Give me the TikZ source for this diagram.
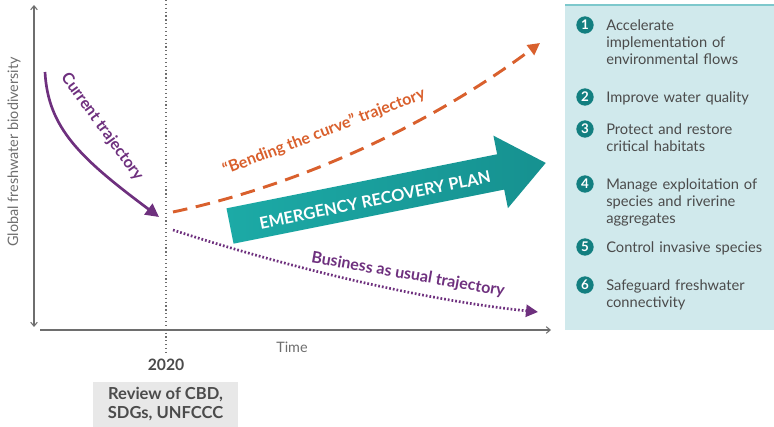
\documentclass[tikz,border=0pt]{standalone}
\usepackage{fontspec}
\setmainfont{Lato}
\usepackage{xcolor}
\usepackage{tikz}
\usetikzlibrary{arrows.meta, positioning, calc}
\definecolor{plum}{RGB}{110, 48, 126}
\definecolor{rust}{RGB}{217, 96, 45}
\definecolor{lagoon}{RGB}{28, 170, 166}
\definecolor{lagoondark}{RGB}{22, 145, 144}
\definecolor{deepteal}{RGB}{19, 127, 128}
\definecolor{panelfill}{RGB}{208, 233, 236}
\definecolor{panelline}{RGB}{125, 200, 204}
\definecolor{axisgray}{RGB}{110, 110, 110}
\definecolor{inkgray}{RGB}{75, 75, 75}
\definecolor{boxgray}{RGB}{232, 232, 232}
\tikzset{
    axis/.style={draw=axisgray, line width=0.8pt},
    trajlabel/.style={inner sep=0pt, font=\fontsize{12}{14}\selectfont\bfseries},
    numdot/.style={circle, fill=deepteal, minimum size=13pt, inner sep=0pt, text=white, font=\fontsize{10}{10}\selectfont\bfseries},
    itemtext/.style={anchor=north west, inner sep=0pt, text width=130pt, align=left, text=inkgray, font=\fontsize{11}{12.75}\selectfont},
    axislabel/.style={text=axisgray, inner sep=0pt, font=\fontsize{10.8}{12}\selectfont}
}
\begin{document}
\begin{tikzpicture}[x=0.75pt, y=-0.75pt]
        \useasboundingbox (0,0) rectangle (774,427);

        % panel
        \fill [panelfill] (565,5) rectangle (774,330);
        \draw [panelline, line width=2.2pt] (565,5) -- (774,5);

        % axes
        \coordinate (ytop) at (34,5);
        \coordinate (ybot) at (34,327);
        \coordinate (xleft) at (40,330);
        \coordinate (xright) at (551,330);
        \draw [axis, {Straight Barb[length=3pt, width=5pt]}-{Straight Barb[length=3pt, width=5pt]}] (ytop) -- (ybot);
        \draw [axis, -{Straight Barb[length=3pt, width=5pt]}] (xleft) -- (xright);
        \node [axislabel, rotate=90] (ylabel) at (14,152) {Global freshwater biodiversity};
        \node [axislabel] (time) at (292,347) {Time};

        % 2020
        \coordinate (ytop2020) at (166,0);
        \coordinate (ybot2020) at (166,353);
        \draw [axisgray, line width=0.9pt, dotted] (ytop2020) -- (ybot2020);
        \node [text=inkgray, font=\fontsize{11.8}{12}\selectfont\bfseries, inner sep=0pt] (year) at (166,365) {2020};
        \fill [boxgray] (93,382) rectangle (238,427);
        \node [text=inkgray, align=center, inner sep=0pt, font=\fontsize{12.4}{14.25}\selectfont\bfseries] (review) at (165.5,404.5) {Review of CBD,\\SDGs, UNFCCC};

        % trajectories
        \coordinate (cstart) at (45,72);
        \coordinate (cend) at (159,217);
        \draw [plum, line width=2pt, -{Triangle[length=10pt, width=10pt]}] (cstart) .. controls (48,128) and (80,158) .. (cend);
        \node [trajlabel, text=plum, rotate=-54] (current) at (102,127) {Current trajectory};

        \coordinate (bstart) at (173,212);
        \coordinate (bend) at (540,43);
        \draw [rust, line width=2.2pt, dash pattern=on 11pt off 6.5pt, -{Triangle[length=9pt, width=9pt]}] (bstart) .. controls (300,185) and (430,125) .. (bend);
        \node [trajlabel, text=rust, rotate=21] (bending) at (324,132) {\char"201C Bending the curve\char"201D\ trajectory};

        \coordinate (ustart) at (173,230);
        \coordinate (uend) at (538,312);
        \draw [plum, line width=2pt, dash pattern=on 1.3pt off 1.5pt, -{Triangle[length=9pt, width=9pt]}] (ustart) .. controls (280,265) and (420,300) .. (uend);
        \node [trajlabel, text=plum, rotate=-10] (usual) at (408,275) {Business as usual trajectory};

        % recovery arrow
        \begin{scope}[shift={(230,226)}, rotate=11.3]
            \shade [left color=lagoon, right color=lagoondark] (0,-18) -- (276,-18) -- (276,-37) -- (322,0) -- (276,37) -- (276,18) -- (0,18) -- cycle;
        \end{scope}
        \node [rotate=11.5, text=white, inner sep=0pt, font=\fontsize{12.3}{13}\selectfont\bfseries] (plan) at (375,200) {EMERGENCY RECOVERY PLAN};

        % actions
        \foreach \n/\cy/\txt in {1/25/{Accelerate\\implementation of\\environmental flows}, 2/97/{Improve water quality}, 3/129/{Protect and restore\\critical habitats}, 4/184/{Manage exploitation of\\species and riverine\\aggregates}, 5/247/{Control invasive species}, 6/285/{Safeguard freshwater\\connectivity}} {
            \node [numdot] (dot\n) at (585,\cy) {\n};
            \node [itemtext] (item\n) at (606,\cy-6) {\txt};
        }

    \end{tikzpicture}
\end{document}
